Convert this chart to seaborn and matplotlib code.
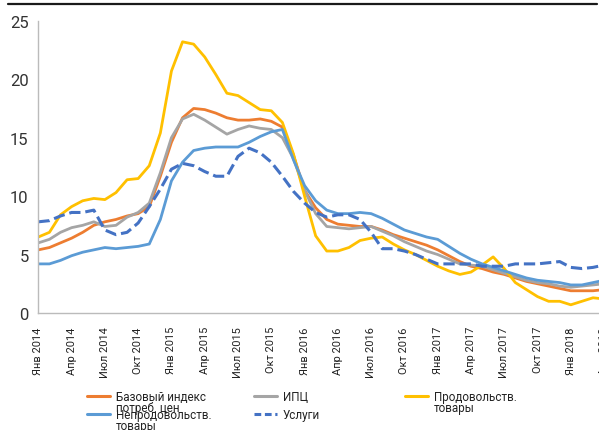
import pandas as pd
import matplotlib.pyplot as plt
import seaborn as sns
from matplotlib.lines import Line2D

sns.set_theme(style="white")
plt.rcParams['font.family'] = ['Roboto', 'DejaVu Sans']

# monthly, Jan 2014 .. Apr 2018
tick_labels = ['Янв 2014', 'Апр 2014', 'Июл 2014', 'Окт 2014',
               'Янв 2015', 'Апр 2015', 'Июл 2015', 'Окт 2015',
               'Янв 2016', 'Апр 2016', 'Июл 2016', 'Окт 2016',
               'Янв 2017', 'Апр 2017', 'Июл 2017', 'Окт 2017',
               'Янв 2018', 'Апр 2018']

core_cpi = [5.4, 5.6, 6.0, 6.4, 6.9, 7.5, 7.8, 8.0, 8.3, 8.5, 9.1, 11.7, 14.6, 16.7, 17.5, 17.4,
            17.1, 16.7, 16.5, 16.5, 16.6, 16.4, 15.9, 13.5, 10.5, 9.0, 8.0, 7.6, 7.5, 7.4, 7.4, 7.1,
            6.7, 6.4, 6.1, 5.8, 5.4, 4.9, 4.4, 4.0, 3.8, 3.5, 3.3, 3.0, 2.7, 2.5, 2.3, 2.1,
            1.9, 1.9, 1.9, 2.0]
cpi = [6.0, 6.3, 6.9, 7.3, 7.5, 7.8, 7.4, 7.5, 8.2, 8.6, 9.4, 12.0, 15.0, 16.6, 17.0, 16.5,
       15.9, 15.3, 15.7, 16.0, 15.8, 15.7, 15.0, 13.2, 10.5, 8.5, 7.4, 7.3, 7.2, 7.3, 7.4, 7.0,
       6.6, 6.1, 5.7, 5.3, 5.0, 4.6, 4.2, 4.1, 4.0, 3.7, 3.4, 3.1, 2.8, 2.6, 2.5, 2.3,
       2.2, 2.3, 2.4, 2.5]
food = [6.5, 6.9, 8.4, 9.1, 9.6, 9.8, 9.7, 10.3, 11.4, 11.5, 12.6, 15.4, 20.7, 23.2, 23.0, 21.9,
        20.4, 18.8, 18.6, 18.0, 17.4, 17.3, 16.3, 13.6, 10.0, 6.6, 5.3, 5.3, 5.6, 6.2, 6.4, 6.5,
        5.9, 5.4, 5.0, 4.5, 4.0, 3.6, 3.3, 3.5, 4.1, 4.8, 3.8, 2.6, 2.0, 1.4, 1.0, 1.0,
        0.7, 1.0, 1.3, 1.2]
nonfood = [4.2, 4.2, 4.5, 4.9, 5.2, 5.4, 5.6, 5.5, 5.6, 5.7, 5.9, 8.0, 11.3, 12.9, 13.9, 14.1,
           14.2, 14.2, 14.2, 14.6, 15.1, 15.5, 15.7, 13.1, 10.9, 9.6, 8.8, 8.5, 8.5, 8.6, 8.5, 8.1,
           7.6, 7.1, 6.8, 6.5, 6.3, 5.7, 5.1, 4.6, 4.2, 3.9, 3.6, 3.3, 3.0, 2.8, 2.7, 2.6,
           2.4, 2.4, 2.6, 2.8]
services = [7.8, 7.9, 8.3, 8.6, 8.6, 8.8, 7.1, 6.7, 6.9, 7.7, 9.1, 10.6, 12.3, 12.8, 12.6, 12.1,
            11.7, 11.7, 13.4, 14.1, 13.7, 12.9, 11.7, 10.4, 9.4, 8.6, 8.2, 8.4, 8.4, 8.0, 6.9, 5.5,
            5.5, 5.3, 5.0, 4.6, 4.2, 4.2, 4.2, 4.2, 4.0, 4.0, 4.0, 4.2, 4.2, 4.2, 4.3, 4.4,
            3.9, 3.8, 3.9, 4.1]

series = [
    ('Базовый индекс\nпотреб. цен', core_cpi, '#ED7D31', '-'),
    ('ИПЦ', cpi, '#A5A5A5', '-'),
    ('Продовольств.\nтовары', food, '#FFC000', '-'),
    ('Непродовольств.\nтовары', nonfood, '#5B9BD5', '-'),
    ('Услуги', services, '#4472C4', '--'),
]

fig = plt.figure(figsize=(5.99, 4.31), dpi=100)
ax = fig.add_axes([0.064, 0.2715, 0.963, 0.678])

months = list(range(len(core_cpi)))
for name, vals, color, ls in series:
    df = pd.DataFrame({'month': months, 'value': vals})
    sns.lineplot(data=df, x='month', y='value', ax=ax, color=color, linestyle=ls,
                 linewidth=2.2 if ls == '--' else 2.0, legend=False)

ax.set_xlim(0, 52)
ax.set_ylim(0, 25)
ax.set_yticks([0, 5, 10, 15, 20, 25])
ax.set_xticks(range(0, 52, 3))
ax.set_xticklabels(tick_labels, rotation=90, fontsize=7.9, color='#222222')
ax.tick_params(axis='y', labelsize=12, labelcolor='#333333', color='#BBBBBB', length=4, width=0.8, pad=3)
ax.tick_params(axis='x', length=4.5, width=0.8, color='#BBBBBB', pad=5)
ax.set_xlabel('')
ax.set_ylabel('')
for s in ['top', 'right']:
    ax.spines[s].set_visible(False)
for s in ['left', 'bottom']:
    ax.spines[s].set_color('#BBBBBB')
    ax.spines[s].set_linewidth(1.0)

# legend laid out by hand: first text line level with the handle, rows packed tight like the source
H = 431.0
leg_pos = [(0.145, 396.5), (0.424, 396.5), (0.676, 396.5), (0.145, 414.5), (0.424, 414.5)]
for (name, vals, color, ls), (lx, py) in zip(series, leg_pos):
    fig.add_artist(Line2D([lx, lx + 0.039], [1 - py / H, 1 - py / H], transform=fig.transFigure,
                          color=color, linewidth=2.2,
                          linestyle=(0, (2.2, 1.2)) if ls == '--' else '-'))
    for k, line in enumerate(name.split('\n')):
        fig.text(lx + 0.048, 1 - (py + 10.5 * k) / H, line, fontsize=8.4, color='#222222',
                 va='center_baseline', ha='left')

# black rule on top
fig.add_artist(Line2D([0.013, 0.997], [0.988, 0.988], transform=fig.transFigure, color='#1a1a1a', linewidth=1.6))

fig.savefig('out.png', dpi=100)
